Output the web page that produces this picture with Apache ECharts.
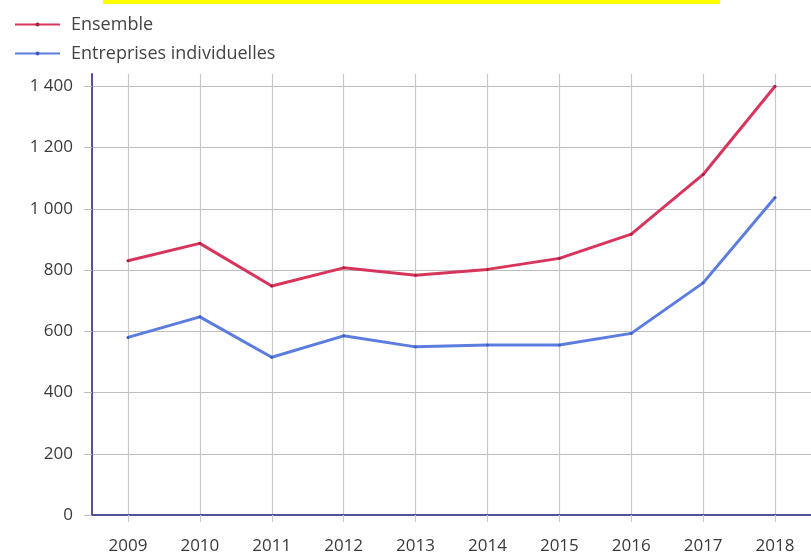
<!DOCTYPE html>
<html>
<head>
<meta charset="utf-8">
<script src="https://cdn.jsdelivr.net/npm/echarts@6/dist/echarts.min.js"></script>
<style>
  html, body { margin: 0; padding: 0; background: #fff; }
  #chart { width: 811px; height: 555px; }
</style>
</head>
<body>
<div id="chart"></div>
<script>
// Years on the horizontal axis
const years = ['2009', '2010', '2011', '2012', '2013', '2014', '2015', '2016', '2017', '2018'];
// Series values
const ensemble = [830, 887, 748, 807, 783, 802, 838, 917, 1112, 1400];
const entreprisesIndividuelles = [580, 647, 515, 585, 549, 555, 555, 593, 758, 1037];
// Series names
const seriesNames = ['Ensemble', 'Entreprises individuelles'];

const FONT = '"Open Sans", "Noto Sans", sans-serif';
const RED = '#d8355c';
const BLUE = '#5c7de0';
const AXIS = '#52529a';

// Space-separated thousands, as in "1 400"
function fmtNumber(v) {
  return String(v).replace(/\B(?=(\d{3})+(?!\d))/g, ' ');
}

const chart = echarts.init(document.getElementById('chart'), null, { renderer: 'canvas' });

chart.setOption({
  animation: false,
  backgroundColor: '#ffffff',
  graphic: [
    { type: 'rect', left: 103, top: 0, shape: { width: 617, height: 4 }, style: { fill: '#ffff00' } }
  ],
  legend: {
    orient: 'vertical',
    left: 14,
    top: 15,
    padding: 0,
    itemWidth: 45,
    itemHeight: 5,
    itemGap: 10,
    textStyle: { fontFamily: FONT, fontSize: 18, color: '#444', lineHeight: 19, padding: [0, 0, 0, 6] },
    data: seriesNames
  },
  grid: {
    left: 92,
    top: 74,
    width: 721,
    height: 441,
    containLabel: false
  },
  xAxis: {
    type: 'category',
    data: years,
    boundaryGap: true,
    axisLine: { show: true, lineStyle: { color: AXIS, width: 2 } },
    axisTick: { show: true, alignWithLabel: true, length: 7, lineStyle: { color: '#c8c8c8', width: 1 } },
    axisLabel: { fontFamily: FONT, fontSize: 17, color: '#3a3a3a', margin: 23 },
    splitLine: { show: true, alignWithLabel: true, lineStyle: { color: '#c8c8c8', width: 1.2 } }
  },
  yAxis: {
    type: 'value',
    min: 0,
    max: 1440,
    interval: 200,
    axisLine: { show: true, lineStyle: { color: AXIS, width: 2 } },
    axisTick: { show: true, length: 8, lineStyle: { color: '#bdbdbd', width: 1 } },
    axisLabel: {
      fontFamily: FONT, fontSize: 17, color: '#3a3a3a', margin: 19,
      showMaxLabel: false,
      formatter: fmtNumber
    },
    splitLine: { show: true, showMaxLine: false, lineStyle: { color: '#bdbdbd', width: 1.2 } }
  },
  series: [
    {
      name: seriesNames[0],
      type: 'line',
      data: ensemble,
      symbol: 'circle',
      symbolSize: 3,
      itemStyle: { color: '#a8203f' },
      lineStyle: { color: RED, width: 3 },
      z: 3
    },
    {
      name: seriesNames[1],
      type: 'line',
      data: entreprisesIndividuelles,
      symbol: 'circle',
      symbolSize: 3,
      itemStyle: { color: '#3e5cc0' },
      lineStyle: { color: BLUE, width: 3 },
      z: 2
    }
  ]
});
</script>
</body>
</html>
